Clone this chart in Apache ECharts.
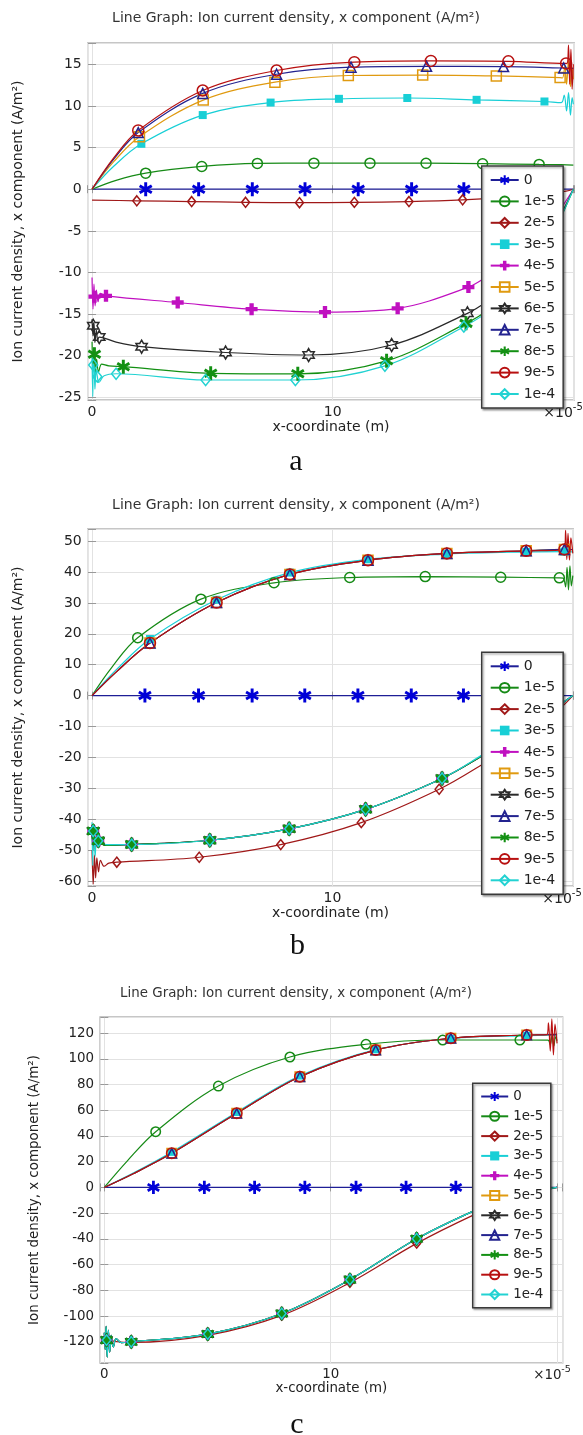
<!DOCTYPE html>
<html><head><meta charset="utf-8">
<script src="https://cdn.jsdelivr.net/npm/echarts@6/dist/echarts.min.js"></script>
<style>html,body{margin:0;padding:0;background:#fff}#c{width:583px;height:1435px}</style>
</head><body><div id="c"></div>
<script>
// ---------------- DATA ----------------
const seriesNames = ['0','1e-5','2e-5','3e-5','4e-5','5e-5','6e-5','7e-5','8e-5','9e-5','1e-4'];
const titleText = 'Line Graph: Ion current density, x component (A/m\u00B2)';
const yAxisTitle = 'Ion current density, x component (A/m\u00B2)';
const xAxisTitle = 'x-coordinate (m)';
const panelLetters = ['a','b','c'];
const xTickLabels = [0, 10];
const xExponent = ['\u00D710', '-5'];

// panel a
const A0_line = [[0,0],[20,0]];
const A0_mark = [[2.23,0],[4.43,0],[6.66,0],[8.85,0],[11.06,0],[13.28,0],[15.45,0],[17.66,0]];
const A1_line = [[0,0],[1,1.07],[19.5,2.95],[20,2.9]];
const A1_mark = [[2.23,1.93],[4.56,2.73],[6.87,3.1],[9.22,3.13],[11.55,3.13],[13.88,3.12],[16.23,3.06],[18.58,2.98]];
const A2_line = [[0,-1.3],[17.6,-0.9],[19,-0.5],[19.7,-0.22],[20,0]];
const A2_mark = [[1.86,-1.39],[4.14,-1.48],[6.38,-1.57],[8.62,-1.62],[10.9,-1.58],[13.17,-1.48],[15.4,-1.27]];
const A3_line = [[0,0],[0.9,2.75],[19.5,10.4],[19.62,11.3],[19.72,9.4],[19.8,11.6],[19.88,8.9],[19.95,11],[20,10.2]];
const A3_mark = [[2.05,5.45],[4.6,8.9],[7.42,10.4],[10.26,10.85],[13.1,10.95],[15.98,10.73],[18.8,10.53]];
const A4_line = [[0,-10.6],[0.04,-14.4],[0.08,-11.4],[0.13,-14],[0.18,-12.1],[0.25,-13.5],[0.34,-12.5],[16.5,-10.3],[17.5,-8.3],[18.5,-5.7],[19.3,-3.1],[19.65,-1.6],[20,0]];
const A4_mark = [[0.1,-12.9],[0.58,-12.8],[3.56,-13.6],[6.63,-14.4],[9.68,-14.75],[12.7,-14.3],[15.64,-11.75]];
const A5_line = [[0,0],[0.9,3.3],[19.55,13.35],[19.65,14.8],[19.72,12.6],[19.8,15.5],[19.88,12.3],[19.95,14.6],[20,13.2]];
const A5_mark = [[1.97,6.3],[4.62,10.7],[7.6,12.85],[10.65,13.65],[13.74,13.7],[16.8,13.6],[19.45,13.4]];
const A6_line = [[0,-15.6],[0.04,-17.6],[0.08,-16],[0.12,-18.4],[0.18,-16.9],[0.24,-18.2],[1,-18.35],[16.5,-13.3],[17.5,-11],[18.5,-7.8],[19.3,-4.1],[19.65,-2.1],[20,0]];
const A6_mark = [[0.05,-16.4],[0.3,-17.75],[2.06,-18.9],[5.55,-19.6],[9,-19.9],[12.45,-18.7],[15.6,-14.9]];
const A7_line = [[0,0],[0.9,3.6],[20,14.5]];
const A7_mark = [[1.92,6.8],[4.6,11.5],[7.67,13.8],[10.76,14.65],[13.9,14.75],[17.1,14.72],[19.6,14.55]];
const A8_line = [[0,-18.3],[0.04,-21.8],[0.08,-19],[0.13,-22.6],[0.19,-20.4],[0.27,-21.9],[0.4,-21],[0.7,-21.2],[16.5,-14.4],[17.5,-11.8],[18.5,-8.2],[19.3,-4.4],[19.65,-2.3],[20,0]];
const A8_mark = [[0.1,-19.8],[1.3,-21.3],[4.93,-22.1],[8.55,-22.16],[12.24,-20.6],[15.54,-16.1]];
const A9_line = [[0,0],[0.9,3.75],[19.75,15.1],[19.8,17.3],[19.85,12.6],[19.9,16.8],[19.95,12],[20,15]];
const A9_mark = [[1.92,7.05],[4.6,11.85],[7.67,14.25],[10.9,15.25],[14.08,15.4],[17.3,15.35],[19.7,15.1]];
const A10_line = [[0,-20],[0.03,-24.9],[0.08,-21],[0.12,-24],[0.17,-21.6],[0.28,-23.2],[0.5,-22.4],[16.5,-14.6],[17.5,-11.9],[18.5,-8.3],[19.3,-4.4],[19.65,-2.3],[20,0]];
const A10_mark = [[0.05,-21.1],[0.22,-22.5],[1.0,-22.15],[4.72,-22.9],[8.45,-22.9],[12.17,-21.2],[15.45,-16.5]];

// panel b
const B0_line = [[0,0],[20,0]];
const B0_mark = [[2.2,0],[4.43,0],[6.66,0],[8.85,0],[11.06,0],[13.28,0],[15.45,0],[17.66,0]];
const B1_line = [[0,0],[0.8,8.9],[19.6,38],[19.7,35.2],[19.76,41.5],[19.82,34.2],[19.88,42],[19.94,35.5],[20,38.8]];
const B1_mark = [[1.9,18.7],[4.53,31.2],[7.57,36.5],[10.72,38.2],[13.86,38.5],[17,38.3],[19.44,38.1]];
const B2_line = [[0,-50],[0.05,-61],[0.1,-51.5],[0.15,-59],[0.2,-52.5],[0.27,-57],[0.35,-53.3],[0.5,-55.2],[0.7,-54.2],[16.25,-22.2],[17.5,-15.8],[18.8,-8.3],[19.6,-3.2],[20,0]];
const B2_mark = [[1.03,-53.9],[4.46,-52.3],[7.85,-48.2],[11.2,-41.1],[14.44,-30.3]];
const B3_line = [[0,0],[1,8.3],[20,46.5]];
const B3_mark = [[2.41,18.3],[5.18,31.0],[8.23,39.8],[11.48,44.1],[14.76,45.8],[18.06,46.5],[19.65,46.6]];
const Bpos_line = [[0,0],[1,7.6],[20,47.2]];
const Bpos_mark = [[2.41,17],[5.18,30.1],[8.23,39.2],[11.48,43.8],[14.76,46],[18.06,46.85],[19.65,47.3]];
const B9_line = [[0,0],[1,7.6],[19.7,53.5],[19.75,44],[19.8,52.5],[19.86,43.8],[19.92,51],[20,46]];
const Bneg_line = [[0,-42],[0.03,-50],[0.08,-44.5],[0.13,-49.5],[0.19,-46],[0.6,-48.5],[16.25,-19.4],[17.5,-13.3],[18.8,-6.5],[19.6,-2.2],[20,0]];
const Bneg_mark = [[0.05,-43.8],[0.26,-47],[1.65,-48.2],[4.9,-46.8],[8.2,-43.1],[11.38,-36.8],[14.56,-26.8]];
const B10_line = [[0,-41],[0.03,-55],[0.08,-44],[0.13,-52],[0.19,-46],[0.6,-48.2],[16.25,-19.1],[17.5,-13.1],[18.8,-6.4],[19.6,-2.2],[20,0]];

// panel c
const C0_line = [[0,0],[20,0]];
const C0_mark = [[2.17,0],[4.42,0],[6.64,0],[8.86,0],[11.12,0],[13.33,0],[15.53,0],[17.75,0]];
const C1_line = [[0,0],[1,20.3],[19.6,114.5],[19.7,111],[19.78,118],[19.86,110],[19.93,117],[20,114]];
const C1_mark = [[2.27,43.3],[5.04,78.8],[8.2,101.4],[11.56,111.3],[14.95,114.6],[18.36,114.6]];
const C2_line = [[0,-118],[0.6,-120],[16.3,-21.5],[17.5,-13],[18.7,-6],[19.5,-2.2],[20,0]];
const C2_mark = [[1.19,-120.5],[4.57,-115],[7.84,-99.5],[10.85,-74],[13.8,-43.5]];
const C3_line = [[0,0],[1.3,11.3],[19.7,118.3],[20,118]];
const C3_mark = [[2.98,27.5],[5.85,58.5],[8.64,86.8],[11.99,107.2],[15.31,115.8],[18.66,118]];
const Cpos_line = [[0,0],[1.3,10.8],[19.6,118.8],[20,119]];
const Cpos_mark = [[2.98,26.5],[5.85,57.6],[8.64,86.1],[11.99,106.8],[15.31,116],[18.66,118.5]];
const C9_line = [[0,0],[1.3,10.8],[19.55,118.8],[19.62,128],[19.7,106],[19.77,131],[19.84,103],[19.91,127],[20,112]];
const Cneg_line = [[0,-113],[0.04,-126],[0.08,-108],[0.13,-132],[0.18,-111],[0.24,-128],[0.3,-115],[0.4,-124],[0.52,-117.5],[0.75,-120.6],[16.3,-18.4],[17.5,-10.5],[18.7,-4.6],[19.5,-1.5],[20,0]];
const Cneg_mark = [[0.1,-118.7],[1.19,-120],[4.57,-114],[7.84,-98],[10.85,-71.7],[13.8,-39.9]];

const panelSeries = [
  [[A0_line,A0_mark],[A1_line,A1_mark],[A2_line,A2_mark],[A3_line,A3_mark],[A4_line,A4_mark],[A5_line,A5_mark],[A6_line,A6_mark],[A7_line,A7_mark],[A8_line,A8_mark],[A9_line,A9_mark],[A10_line,A10_mark]],
  [[B0_line,B0_mark],[B1_line,B1_mark],[B2_line,B2_mark],[B3_line,B3_mark],[Bneg_line,Bneg_mark],[Bpos_line,Bpos_mark],[Bneg_line,Bneg_mark],[Bpos_line,Bpos_mark],[Bneg_line,Bneg_mark],[B9_line,Bpos_mark],[B10_line,Bneg_mark]],
  [[C0_line,C0_mark],[C1_line,C1_mark],[C2_line,C2_mark],[C3_line,C3_mark],[Cneg_line,Cneg_mark],[Cpos_line,Cpos_mark],[Cneg_line,Cneg_mark],[Cpos_line,Cpos_mark],[Cneg_line,Cneg_mark],[C9_line,Cpos_mark],[Cneg_line,Cneg_mark]]
];

// ---------------- STYLE / LAYOUT ----------------
const ASTER = 'path://M-2.1,10L2.1,10L2.1,-10L-2.1,-10Z M7.61,6.82L9.71,3.18L-7.61,-6.82L-9.71,-3.18Z M-9.71,3.18L-7.61,6.82L9.71,-3.18L7.61,-6.82Z';
const PLUS = 'path://M-2.9,-8L2.9,-8L2.9,-2.9L8,-2.9L8,2.9L2.9,2.9L2.9,8L-2.9,8L-2.9,2.9L-8,2.9L-8,-2.9L-2.9,-2.9Z';
const HEX = 'path://M0,-10L2.887,-5L8.66,-5L5.77,0L8.66,5L2.887,5L0,10L-2.887,5L-8.66,5L-5.77,0L-8.66,-5L-2.887,-5Z';
const styles = [
  {color:'#1e1e96', fill:'#0000d8', symbol:ASTER, size:14},
  {color:'#168a16', symbol:'circle', size:10},
  {color:'#a01818', symbol:'diamond', size:[8,10]},
  {color:'#18cfd6', fill:'#18cfd6', symbol:'rect', size:8},
  {color:'#c010c0', fill:'#c010c0', symbol:PLUS, size:12},
  {color:'#e09a10', symbol:'rect', size:10},
  {color:'#2a2a2a', symbol:HEX, size:13},
  {color:'#23238f', symbol:'triangle', size:10},
  {color:'#139013', fill:'#139013', symbol:ASTER, size:14},
  {color:'#b81010', symbol:'circle', size:11},
  {color:'#22d2d2', symbol:'diamond', size:[9,11]}
];
const FONT = "'DejaVu Sans', sans-serif";
const layouts = [
  {grid:{left:87.7, top:43, width:486.6, height:357}, x:[-0.18,20.04], y:[-25.3,17.55], yStep:5, fs:14, sc:1,
   legend:{left:481.7, top:166, gap:7.4, pad:[7,8,7,8], iw:28}, titleY:18.7, letterY:462, letterX:296, nameGapY:62},
  {grid:{left:87.7, top:529, width:485.6, height:357}, x:[-0.18,20.02], y:[-61.6,53.9], yStep:10, fs:14, sc:1,
   legend:{left:481.7, top:652.3, gap:7.4, pad:[7,8,7,8], iw:28}, titleY:505, letterY:946, letterX:297.5, nameGapY:62},
  {grid:{left:100, top:1017, width:462.7, height:346}, x:[-0.19,20.25], y:[-136.5,132.5], yStep:20, fs:13.4, sc:0.95,
   legend:{left:472.7, top:1083.3, gap:6.8, pad:[6.7,7.5,6.7,7.5], iw:27}, titleY:993.3, letterY:1425, letterX:297, nameGapY:59}
];

function build(line, mark){
  const pts = line.map(p => ({value:p, symbol:'none'})).concat(mark.map(p => ({value:p})));
  pts.sort((a,b) => a.value[0]-b.value[0]);
  return pts;
}
function isMult(v, s){ return Math.abs(v/s - Math.round(v/s)) < 1e-6; }

const grids=[], xAxes=[], yAxes=[], series=[], legends=[], graphics=[];
layouts.forEach((L, p) => {
  grids.push(Object.assign({show:true, borderColor:'#b4b4b4', borderWidth:1.3, backgroundColor:'#fff'}, L.grid));
  const xb = {type:'value', gridIndex:p, min:L.x[0], max:L.x[1], splitNumber:2, minInterval:10, maxInterval:10};
  const yb = {type:'value', gridIndex:p, min:L.y[0], max:L.y[1], minInterval:L.yStep, maxInterval:L.yStep, splitNumber:8};
  xAxes.push(Object.assign({}, xb, {position:'bottom',
    axisLine:{show:false}, axisTick:{show:true, inside:true, length:4, lineStyle:{color:'#999'}},
    splitLine:{show:true, lineStyle:{color:'#e2e2e2', width:1}},
    axisLabel:{margin:5, fontFamily:FONT, fontSize:L.fs, color:'#222',
      formatter: v => (xTickLabels.some(t => Math.abs(t - v) < 1e-6) ? String(Math.round(v)) : '')},
    name:xAxisTitle, nameLocation:'middle', nameGap:17*L.sc+1,
    nameTextStyle:{fontFamily:FONT, fontSize:L.fs, color:'#222'}}));
  xAxes.push(Object.assign({}, xb, {position:'top', axisLine:{show:false}, axisLabel:{show:false},
    axisTick:{show:true, inside:true, length:4, lineStyle:{color:'#999'}}, splitLine:{show:false}}));
  yAxes.push(Object.assign({}, yb, {position:'left',
    axisLine:{show:false}, axisTick:{show:true, inside:true, length:4, lineStyle:{color:'#999'}},
    splitLine:{show:true, lineStyle:{color:'#e2e2e2', width:1}},
    axisLabel:{margin:6, fontFamily:FONT, fontSize:L.fs, color:'#222',
      formatter: v => (isMult(v, L.yStep) ? String(Math.round(v)) : '')},
    name:yAxisTitle, nameLocation:'middle', nameGap:L.nameGapY, nameRotate:90,
    nameTextStyle:{fontFamily:FONT, fontSize:L.fs, color:'#222'}}));
  yAxes.push(Object.assign({}, yb, {position:'right', axisLine:{show:false}, axisLabel:{show:false},
    axisTick:{show:true, inside:true, length:4, lineStyle:{color:'#999'}}, splitLine:{show:false}}));

  panelSeries[p].forEach((pair, i) => {
    const st = styles[i];
    const sz = Array.isArray(st.size) ? st.size.map(v => v*L.sc) : st.size*L.sc;
    series.push({
      type:'line', name:seriesNames[i], xAxisIndex:2*p, yAxisIndex:2*p,
      data: build(pair[0], pair[1]),
      smooth:0.35,
      symbol:st.symbol, symbolSize:sz, symbolKeepAspect:true,
      showSymbol:true, showAllSymbol:true,
      lineStyle:{color:st.color, width:1.2},
      itemStyle: st.fill ? {color:st.fill, borderWidth:0}
                         : {color:'rgba(255,255,255,0)', borderColor:st.color, borderWidth:1.5},
      emphasis:{disabled:true}, silent:true, animation:false
    });
  });

  legends.push({
    orient:'vertical', left:L.legend.left, top:L.legend.top, padding:L.legend.pad,
    itemWidth:L.legend.iw, itemHeight:12*L.sc, itemGap:L.legend.gap,
    backgroundColor:'#fff', borderColor:'#3a3a3a', borderWidth:1.5, borderRadius:0,
    shadowColor:'rgba(0,0,0,0.35)', shadowBlur:2, shadowOffsetX:1.5, shadowOffsetY:1.5,
    selectedMode:false, data:seriesNames,
    textStyle:{fontFamily:FONT, fontSize:L.fs, color:'#222'}
  });

  const g = L.grid;
  graphics.push({type:'text', x:296, y:L.titleY, silent:true,
    style:{text:titleText, fontFamily:FONT, fontSize:L.fs, fill:'#333', align:'center', verticalAlign:'middle', textAlign:'center', textVerticalAlign:'middle'}});
  graphics.push({type:'text', x:L.letterX, y:L.letterY, silent:true,
    style:{text:panelLetters[p], fontFamily:"'Liberation Serif', 'Times New Roman', serif", fontSize:30, fill:'#111', align:'center', verticalAlign:'middle', textAlign:'center', textVerticalAlign:'middle'}});
  const ex = g.left + g.width - 31*L.sc;
  const ey = g.top + g.height + 13*L.sc;
  graphics.push({type:'text', x:ex, y:ey, silent:true,
    style:{text:xExponent[0], fontFamily:FONT, fontSize:L.fs, fill:'#222', align:'left', verticalAlign:'middle', textAlign:'left', textVerticalAlign:'middle'}});
  graphics.push({type:'text', x:ex + 29.5*L.sc, y:ey - 6*L.sc, silent:true,
    style:{text:xExponent[1], fontFamily:FONT, fontSize:10*L.sc, fill:'#222', align:'left', verticalAlign:'middle', textAlign:'left', textVerticalAlign:'middle'}});
});

const chart = echarts.init(document.getElementById('c'), null, {renderer:'canvas'});
chart.setOption({
  backgroundColor:'#fff', animation:false,
  grid:grids, xAxis:xAxes, yAxis:yAxes, series:series, legend:legends, graphic:graphics
});
</script></body></html>
